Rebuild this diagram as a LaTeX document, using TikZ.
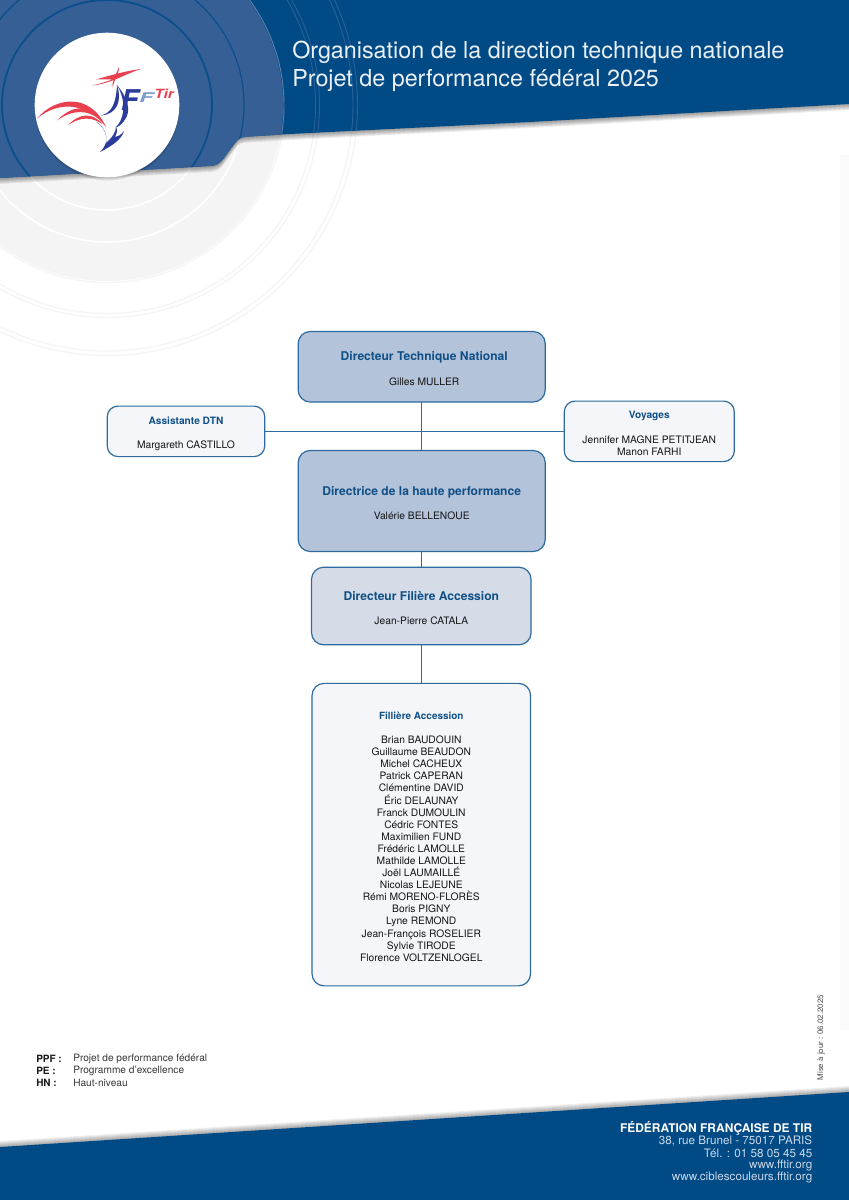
\documentclass[tikz,border=0pt]{standalone}
\usepackage{fontspec}
\setmainfont{TeX Gyre Heros}
\definecolor{hdr}{HTML}{004A86}
\definecolor{disc}{HTML}{365F96}
\definecolor{ringd}{HTML}{0A4F8C}
\definecolor{ringl}{HTML}{5E80AA}
\definecolor{ringm}{HTML}{2A6097}
\definecolor{pale}{HTML}{F4F4F5}
\definecolor{palering}{HTML}{F5F5F6}
\definecolor{edgeblue}{HTML}{2F6B9F}
\definecolor{titleblue}{HTML}{0F4F86}
\definecolor{fillA}{HTML}{B3C3DA}
\definecolor{fillB}{HTML}{D5DCE8}
\definecolor{fillC}{HTML}{F4F6FA}
\definecolor{foot}{HTML}{CBD8E7}
\definecolor{lred}{HTML}{E8404F}
\definecolor{lblue}{HTML}{2C3C9C}
\definecolor{lblue2}{HTML}{7E9BCE}
\newcommand{\hdrpath}{(0,0) -- (849,0) -- (849,104) -- (530,122) -- (290,134) -- (247,136.7) .. controls (241,137) and (238,139) .. (235,143) -- (224,158) .. controls (220,164) and (216,165.5) .. (210,166) -- (0,178) -- cycle}
\newcommand{\ftrpath}{(0,1147) -- (849,1092) -- (849,1200) -- (0,1200) -- cycle}
\newcommand{\tfa}[1]{{\fontsize{9.05pt}{9.07pt}\selectfont\bfseries\color{titleblue}#1}}
\newcommand{\tfb}[1]{{\fontsize{7.6pt}{9.07pt}\selectfont\bfseries\color{titleblue}#1}}
\newcommand{\tfc}[1]{{\fontsize{7.45pt}{9.07pt}\selectfont\bfseries\color{titleblue}#1}}
\tikzset{
  orgbox/.style={draw=edgeblue,line width=.9pt,rounded corners=9pt,inner sep=0pt,outer sep=0pt,align=center,
    font=\fontsize{7.7pt}{9.07pt}\selectfont,text=black!92},
  conn/.style={draw=edgeblue,line width=.85pt},
  hdrtext/.style={anchor=base west,inner sep=0pt,text=white!92!hdr,font=\fontsize{17.5pt}{20pt}\selectfont},
  foottext/.style={anchor=east,inner sep=0pt,text=foot,font=\fontsize{8.75pt}{9pt}\selectfont},
  legendkey/.style={anchor=west,inner sep=0pt,text=black!90,font=\fontsize{7.5pt}{9pt}\selectfont\bfseries},
  legendval/.style={anchor=west,inner sep=0pt,text=black!78,font=\fontsize{7.6pt}{9pt}\selectfont},
  logored/.style={fill=lred,draw=none},
  logoblue/.style={fill=lblue,draw=none},
}
\begin{document}
\begin{tikzpicture}[x=.75pt,y=-.75pt]
\useasboundingbox (0,0) rectangle (849,1200);
\fill[white] (0,0) rectangle (849,1200);
% faint panel at right edge
\fill[black!1.5] (840,155) rectangle (849,1030);
% pale target rings under the header
\fill[pale] (107,105) circle[radius=176];
\draw[white,line width=1.2pt] (107,105) circle[radius=105] (107,105) circle[radius=137] ;
\draw[palering,line width=1pt] (107,105) circle[radius=177.5] (107,105) circle[radius=208.5] (107,105) circle[radius=212.5] (107,105) circle[radius=246] (107,105) circle[radius=250.5];
% header shadow
\foreach \s in {1,...,6}{\fill[black,opacity=.07,yshift=-\s*.75pt] \hdrpath;}
% header
\fill[hdr] \hdrpath;
\begin{scope}
\clip \hdrpath;
\fill[disc] (107,105) circle[radius=176];
\draw[ringd,line width=1.4pt] (107,105) circle[radius=105];
\draw[ringd,line width=.9pt] (107,105) circle[radius=137];
\draw[ringl,line width=.7pt] (107,105) circle[radius=177];
\draw[ringm,line width=.7pt] (107,105) circle[radius=208.5] (107,105) circle[radius=212.5] (107,105) circle[radius=246] (107,105) circle[radius=250.5];
\end{scope}
% logo disc
\foreach \s in {1,2,3}{\fill[black,opacity=.07] (107,105.5+\s) circle[radius=72];}
\fill[white] (107,105) circle[radius=72.3];
% logo: red wing and crest
\fill[logored] (37,118.5) .. controls (55,97) and (90,92) .. (106,127) .. controls (90,106) and (62,98) .. (37,118.5) -- cycle;
\fill[logored] (57,120.5) .. controls (72,105) and (88,104) .. (99,119) .. controls (88,110) and (73,109) .. (57,120.5) -- cycle;
\fill[logored] (68,125) .. controls (80,113) and (92,112) .. (103,124.5) .. controls (92,117) and (82,116) .. (68,125) -- cycle;
\fill[logored] (92,85.5) .. controls (110,84) and (125,74) .. (141,69) .. controls (125,71) and (108,76) .. (96,79.5) .. controls (103,79.5) and (110,79) .. (112,79.5) .. controls (106,82) and (99,84) .. (92,85.5) -- cycle;
\fill[logored] (119,67) .. controls (117,73) and (112,79) .. (112.5,87.5) .. controls (114,80) and (119,75) .. (119,67) -- cycle;
% logo: blue bird
\fill[logoblue] (117,85) .. controls (122,100) and (118,114) .. (101,115.5) .. controls (112,113) and (116,103) .. (117,85) -- cycle;
\fill[logoblue] (117,85) .. controls (126,96) and (133,110) .. (124,121) .. controls (121,125) and (118,127) .. (115.5,127.5) .. controls (123,121) and (128,104) .. (117,85) -- cycle;
\fill[logoblue] (96,121.5) .. controls (107,130) and (111,141) .. (100,152) .. controls (112,146) and (122,139) .. (124,131) .. controls (121,135) and (118,136.5) .. (115,137) .. controls (117,133) and (118,130) .. (116,127) .. controls (116,132) and (112,138) .. (106,143) .. controls (108,135) and (104,127) .. (96,121.5) -- cycle;
\node[inner sep=0pt,anchor=base west,text=lblue,font=\fontsize{21.5pt}{22pt}\selectfont\bfseries\itshape] (logoF) at (120.5,110) {F};
\node[inner sep=0pt,anchor=base west,text=lblue2,font=\fontsize{10pt}{10pt}\selectfont\bfseries\itshape,xscale=1.7] (logoFb) at (138.8,102.5) {F};
\node[inner sep=0pt,anchor=base west,text=lred,font=\fontsize{9.5pt}{10pt}\selectfont\bfseries\itshape,xscale=1.2] (logoTir) at (154,98) {Tir};
% footer
\foreach \s in {1,...,6}{\fill[black,opacity=.06,yshift=\s*.75pt] \ftrpath;}
\fill[hdr] \ftrpath;
% heading
\node[hdrtext] (head1) at (292,58.3) {Organisation de la direction technique nationale};
\node[hdrtext] (head2) at (292,86.2) {Projet de performance fédéral 2025};
% org boxes
\node[orgbox,fill=fillA,minimum width=247*.75pt,minimum height=70.5*.75pt] (dtn) at (421.7,366.75)
  {\rule{0pt}{10pt}\hspace*{3.75pt}\tfa{Directeur Technique National}\\[9.5pt]\hspace*{3.75pt}Gilles MULLER};
\node[orgbox,fill=fillA,minimum width=247*.75pt,minimum height=101*.75pt] (dhp) at (421.7,501)
  {\rule{0pt}{10pt}\tfa{Directrice de la haute performance}\\[9pt]Valérie BELLENOUE};
\node[orgbox,fill=fillB,minimum width=219.5*.75pt,minimum height=77.5*.75pt] (dfa) at (421.3,606)
  {\rule{0pt}{10pt}\tfa{Directeur Filière Accession}\\[9pt]Jean-Pierre CATALA};
\node[orgbox,fill=fillC,rounded corners=8pt,minimum width=157.5*.75pt,minimum height=50.5*.75pt] (asst) at (186,431.35)
  {\rule{0pt}{9.5pt}\tfb{Assistante DTN}\\[9pt]Margareth CASTILLO};
\node[orgbox,fill=fillC,rounded corners=8pt,minimum width=170*.75pt,minimum height=60.5*.75pt] (voy) at (649.3,431.35)
  {\rule{0pt}{8.6pt}\tfb{Voyages}\\[9pt]Jennifer MAGNE PETITJEAN\\Manon FARHI};
\node[orgbox,fill=fillC,minimum width=218.5*.75pt,minimum height=302.5*.75pt] (acc) at (421.3,834.6)
  {\rule{0pt}{9pt}\tfc{Fillière Accession}\\[8.8pt]Brian BAUDOUIN\\Guillaume BEAUDON\\Michel CACHEUX\\Patrick CAPERAN\\Clémentine DAVID\\Éric DELAUNAY\\Franck DUMOULIN\\Cédric FONTES\\Maximilien FUND\\Frédéric LAMOLLE\\Mathilde LAMOLLE\\Joël LAUMAILLÉ\\Nicolas LEJEUNE\\Rémi MORENO-FLORÈS\\Boris PIGNY\\Lyne REMOND\\Jean-François ROSELIER\\Sylvie TIRODE\\Florence VOLTZENLOGEL};
% connectors
\draw[conn] (asst.east) -- (voy.west);
\draw[conn] (dtn.south) -- (dhp.north);
\draw[conn] (dhp.south) -- (dhp.south |- dfa.north);
\draw[conn] (dfa.south) -- (acc.north);
% legend
\node[legendkey] (k1) at (36,1059) {PPF :};
\node[legendkey] (k2) at (36,1071) {PE :};
\node[legendkey] (k3) at (36,1083) {HN :};
\node[legendval] (v1) at (73,1059) {Projet de performance fédéral};
\node[legendval] (v2) at (73,1071) {Programme d’excellence};
\node[legendval] (v3) at (73,1083) {Haut-niveau};
% date
\node[inner sep=0pt,rotate=90,anchor=west,text=black!70,font=\fontsize{5.9pt}{6pt}\selectfont] (date) at (821,1080.5) {Mise à jour : 06.02.2025};
% footer text
\node[foottext,text=white,font=\fontsize{8.97pt}{9pt}\selectfont\bfseries] (f0) at (812.5,1128.5) {FÉDÉRATION FRANÇAISE DE TIR};
\node[foottext] (f1) at (812.5,1141) {38, rue Brunel - 75017 PARIS};
\node[foottext] (f2) at (812.5,1153) {Tél. : 01 58 05 45 45};
\node[foottext] (f3) at (812.5,1165) {www.fftir.org};
\node[foottext] (f4) at (812.5,1177.5) {www.ciblescouleurs.fftir.org};
\end{tikzpicture}
\end{document}
